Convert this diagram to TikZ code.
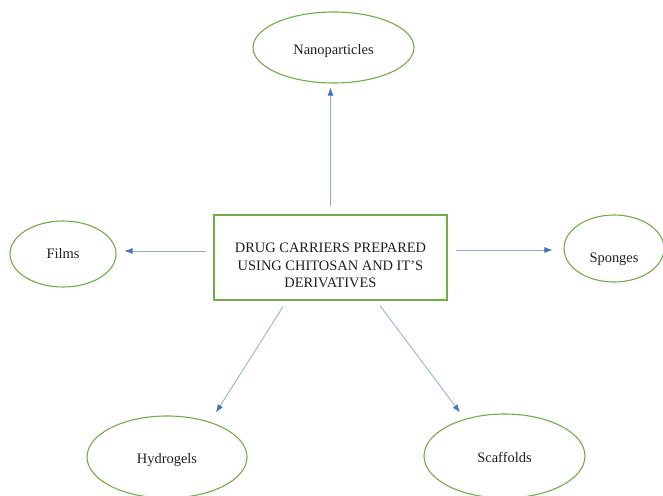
\documentclass[tikz,border=0pt]{standalone}
\usepackage{fontspec}
\setmainfont{Liberation Serif}
\usetikzlibrary{shapes.geometric,arrows.meta}
\definecolor{boxgreen}{HTML}{70AD47}
\definecolor{arrblue}{HTML}{4472C4}
\definecolor{linblue}{HTML}{8EA9DB}
\definecolor{txt}{HTML}{1F1F1F}
\tikzset{
  oval/.style={draw=boxgreen, line width=1.1bp, ellipse, inner sep=0pt, text=txt,
    text depth=3bp, font=\fontsize{14.5}{17.5}\selectfont},
  mainbox/.style={draw=boxgreen, line width=1.4bp, rectangle, inner sep=0pt},
  boxtext/.style={inner sep=0pt, text=txt, align=center, font=\fontsize{14.5}{17.5}\selectfont},
  arr/.style={draw=linblue, line width=0.8bp, -{Latex[length=8bp,width=6bp,color=arrblue]}}
}
\begin{document}
\begin{tikzpicture}[x=1bp,y=-1bp]
\useasboundingbox (0,0) rectangle (663,496);
\node[mainbox, minimum width=233bp, minimum height=85bp] (box) at (330.5,257.5) {};
\node[boxtext] (boxtxt) at (330.5,265.5)
  {DRUG CARRIERS PREPARED\\USING CHITOSAN AND IT'S\\DERIVATIVES};
\node[oval, minimum width=161bp, minimum height=71bp, text height=18bp] (nano) at (333.5,47.5) {Nanoparticles};
\node[oval, minimum width=106bp, minimum height=66bp, text height=13bp] (films) at (63,254) {Films};
\node[oval, minimum width=100bp, minimum height=67bp, text height=31bp] (sponges) at (614,248.5) {Sponges};
\node[oval, minimum width=160bp, minimum height=82bp, text height=15bp] (hydro) at (167,457) {Hydrogels};
\node[oval, minimum width=161bp, minimum height=84bp, text height=15bp] (scaff) at (504.5,456) {Scaffolds};
\draw[arr, shorten >=4bp] ([yshift=8bp]box.north) -- (box.north |- nano.south);
\draw[arr, shorten <=7bp, shorten >=8bp] ([yshift=6.5bp]box.west) -- ([yshift=6.5bp]box.west -| films.east);
\draw[arr, shorten <=8bp, shorten >=11bp] ([yshift=7.5bp]box.east) -- ([yshift=7.5bp]box.east -| sponges.west);
\draw[arr] ([xshift=-47.5bp,yshift=-6bp]box.south) -- ([xshift=49bp,yshift=3bp]hydro.north);
\draw[arr] ([xshift=49.5bp,yshift=-5bp]box.south) -- ([xshift=-44.5bp,yshift=1bp]scaff.north);
\end{tikzpicture}
\end{document}
